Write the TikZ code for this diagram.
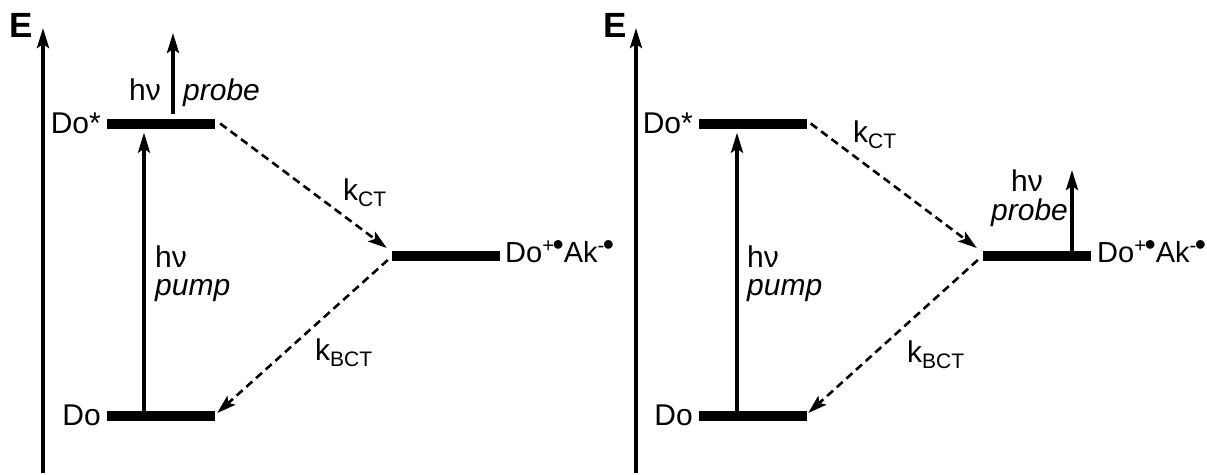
\documentclass[tikz,border=0pt]{standalone}
\usepackage{fontspec}
\setmainfont{Liberation Sans}
\usetikzlibrary{arrows.meta}
\newcommand{\radb}{\kern-2pt\raisebox{7pt}{\fontsize{32}{32}\selectfont•}}
\begin{document}
\begin{tikzpicture}[x=1pt,y=-1pt,
  lvl/.style={fill=black, inner sep=0pt, minimum width=108pt, minimum height=10pt},
  txt/.style={inner sep=0pt, font=\fontsize{30}{34}\selectfont},
  ctl/.style={inner sep=0pt, font=\fontsize{29}{34}\selectfont},
  elab/.style={inner sep=0pt, font=\fontsize{35}{38}\selectfont\bfseries},
  solidarr/.style={line width=3.6pt, -{Stealth[length=20pt,width=12pt,inset=4pt]}},
  dasharr/.style={line width=2.6pt, dash pattern=on 8pt off 5pt, -{Stealth[length=19pt,width=12pt,inset=4pt]}},
]
\useasboundingbox (0,0) rectangle (1207,474);

% ---------- left panel ----------
\coordinate (axb1) at (43,473);
\coordinate (axt1) at (43,28);
\draw[solidarr] (axb1) -- (axt1);
\node[elab, anchor=base west] (E1) at (9,37) {E};

\node[lvl] (DoS1) at (161,123.5) {};
\node[lvl] (Do1) at (161,416) {};
\node[lvl] (CT1) at (445.5,256) {};

\node[txt, anchor=base east] (lDoS1) at (101,133) {Do*};
\node[txt, anchor=base east] (lDo1) at (101,425) {Do};
\node[ctl, anchor=base west] (lCT1) at (505,262) {Do\textsuperscript{+}\radb Ak\textsuperscript{-}\radb};

\draw[solidarr] ([xshift=-17pt]Do1.north) -- ([xshift=-17pt,yshift=-4pt]DoS1.south);
\node[txt, anchor=base west] (hvp1) at (155,267) {hν};
\node[txt, anchor=base west] (pump1) at (155,295) {\itshape pump};

\coordinate (prb1) at (173,33);
\draw[solidarr] ([xshift=12pt,yshift=4pt]DoS1.north) -- (prb1);
\node[txt, anchor=base west] (hvq1) at (129,100) {hν};
\node[txt, anchor=base west] (probe1) at (183,100) {\itshape probe};

\draw[dasharr] ([xshift=5pt]DoS1.east) -- ([xshift=-4.5pt,yshift=8pt]CT1.west);
\draw[dasharr] ([xshift=-3.5pt,yshift=-4pt]CT1.west) -- ([xshift=2pt,yshift=3pt]Do1.east);
\node[txt, anchor=base west] (kct1) at (343,200) {k\textsubscript{CT}};
\node[txt, anchor=base west] (kbct1) at (315,360) {k\textsubscript{BCT}};

% ---------- right panel ----------
\coordinate (axb2) at (636,473);
\coordinate (axt2) at (636,28);
\draw[solidarr] (axb2) -- (axt2);
\node[elab, anchor=base west] (E2) at (603,37) {E};

\node[lvl] (DoS2) at (752.5,123.5) {};
\node[lvl] (Do2) at (752.5,416) {};
\node[lvl] (CT2) at (1036.5,256) {};

\node[txt, anchor=base east] (lDoS2) at (693,133) {Do*};
\node[txt, anchor=base east] (lDo2) at (693,425) {Do};
\node[ctl, anchor=base west] (lCT2) at (1097,262) {Do\textsuperscript{+}\radb Ak\textsuperscript{-}\radb};

\draw[solidarr] ([xshift=-15.5pt]Do2.north) -- ([xshift=-15.5pt,yshift=-4pt]DoS2.south);
\node[txt, anchor=base west] (hvp2) at (747,267) {hν};
\node[txt, anchor=base west] (pump2) at (747,295) {\itshape pump};

\coordinate (prb2) at (1072,170);
\draw[solidarr] ([xshift=35.5pt]CT2.north) -- (prb2);
\node[txt, anchor=base west] (hvq2) at (1011,191) {hν};
\node[txt, anchor=base west] (probe2) at (991,220) {\itshape probe};

\draw[dasharr] ([xshift=4pt]DoS2.east) -- ([xshift=-5.5pt,yshift=8pt]CT2.west);
\draw[dasharr] ([xshift=-4.5pt,yshift=-4pt]CT2.west) -- ([xshift=1.5pt,yshift=3pt]Do2.east);
\node[txt, anchor=base west] (kct2) at (853,142) {k\textsubscript{CT}};
\node[txt, anchor=base west] (kbct2) at (907,362) {k\textsubscript{BCT}};
\end{tikzpicture}
\end{document}
